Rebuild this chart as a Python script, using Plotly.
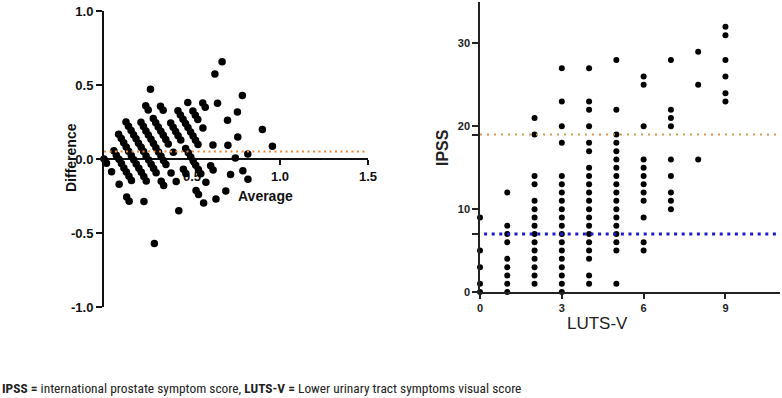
import plotly.graph_objects as go

# ---------------- data ----------------
# Bland-Altman (left panel)
bland_avg = [
    0.000, 0.014, 0.043, 0.086, 0.129, 0.143, 0.286,
    0.056, 0.070, 0.085, 0.099, 0.113, 0.127, 0.142, 0.156, 0.227,
    0.083, 0.098, 0.112, 0.126, 0.140, 0.155, 0.169, 0.183, 0.198, 0.212, 0.226, 0.240,
    0.125, 0.139, 0.154, 0.168, 0.182, 0.196, 0.211, 0.225, 0.239, 0.254, 0.268, 0.282, 0.296, 0.325, 0.339, 0.425,
    0.210, 0.224, 0.238, 0.252, 0.267, 0.281, 0.295, 0.310, 0.324, 0.338, 0.352, 0.381, 0.410,
    0.237, 0.251, 0.280, 0.294, 0.308, 0.323, 0.337, 0.351, 0.365, 0.394, 0.451, 0.465, 0.523, 0.537, 0.566,
    0.264, 0.321, 0.336, 0.379, 0.393, 0.407, 0.421, 0.436, 0.464, 0.479, 0.493, 0.507, 0.521, 0.536, 0.550, 0.579, 0.636,
    0.420, 0.434, 0.449, 0.463, 0.477, 0.492, 0.506, 0.520, 0.534, 0.606, 0.620, 0.692,
    0.476, 0.505, 0.519, 0.533, 0.562, 0.619, 0.719,
    0.561, 0.575, 0.704, 0.746, 0.789, 0.818,
    0.645, 0.702, 0.760, 0.817,
    0.630, 0.758,
    0.671, 0.786, 0.900, 0.957,
]
bland_diff = [
    0.000, -0.029, -0.086, -0.171, -0.257, -0.286, -0.571,
    0.055, 0.026, -0.002, -0.031, -0.060, -0.088, -0.117, -0.145, -0.288,
    0.167, 0.138, 0.110, 0.081, 0.052, 0.024, -0.005, -0.033, -0.062, -0.090, -0.119, -0.148,
    0.250, 0.221, 0.193, 0.164, 0.136, 0.107, 0.079, 0.050, 0.021, -0.007, -0.036, -0.064, -0.093, -0.150, -0.179, -0.350,
    0.248, 0.219, 0.190, 0.162, 0.133, 0.105, 0.076, 0.048, 0.019, -0.010, -0.038, -0.095, -0.152,
    0.360, 0.331, 0.274, 0.245, 0.217, 0.188, 0.160, 0.131, 0.102, 0.045, -0.069, -0.098, -0.212, -0.240, -0.298,
    0.471, 0.357, 0.329, 0.243, 0.214, 0.186, 0.157, 0.129, 0.071, 0.043, 0.014, -0.014, -0.043, -0.071, -0.100, -0.157, -0.271,
    0.326, 0.298, 0.269, 0.240, 0.212, 0.183, 0.155, 0.126, 0.098, -0.045, -0.074, -0.217,
    0.381, 0.324, 0.295, 0.267, 0.210, 0.095, -0.105,
    0.379, 0.350, 0.093, 0.007, -0.079, -0.136,
    0.376, 0.262, 0.148, 0.033,
    0.574, 0.317,
    0.657, 0.429, 0.200, 0.086,
]
mean_diff = 0.05

# IPSS vs LUTS-V (right panel)
lutsv_levels = [0, 1, 2, 3, 4, 5, 6, 7, 8, 9]
ipss_by_level = [
    [0, 1, 3, 5, 9],
    [0, 1, 2, 3, 4, 6, 7, 8, 12],
    [1, 2, 3, 4, 5, 6, 7, 8, 9, 10, 11, 13, 14, 19, 21],
    [0, 1, 2, 3, 4, 5, 6, 7, 8, 9, 10, 11, 12, 13, 14, 18, 20, 23, 27],
    [1, 2, 4, 5, 6, 7, 8, 9, 10, 11, 12, 13, 14, 15, 17, 18, 20, 22, 23, 27],
    [1, 5, 6, 7, 8, 9, 10, 11, 12, 13, 14, 15, 16, 17, 18, 19, 22, 28],
    [5, 6, 9, 11, 12, 13, 14, 15, 16, 20, 25, 26],
    [10, 11, 12, 14, 16, 20, 21, 22, 28],
    [16, 25, 29],
    [23, 24, 26, 28, 31, 32],
]
ipss_upper_cut = 19
ipss_lower_cut = 7

left_yticks = [-1.0, -0.5, 0.0, 0.5, 1.0]
left_xticks = [0.5, 1.0, 1.5]
right_xticks = [0, 3, 6, 9]
right_yticks = [0, 7, 10, 19, 20, 30]
right_yticktext = ["0", "", "10", "", "20", "30"]

caption = ("<b>IPSS =</b> international prostate symptom score, "
           "<b>LUTS-V =</b> Lower urinary tract symptoms visual score")

# ---------------- figure ----------------
W, H = 782, 398
px = lambda v: v / W
py = lambda v: (H - v) / H

lx = []
ly = []
for lvl, vals in zip(lutsv_levels, ipss_by_level):
    for v in vals:
        lx.append(lvl)
        ly.append(v)

fig = go.Figure()
fig.add_trace(go.Scatter(x=bland_avg, y=bland_diff, mode="markers",
                         marker=dict(color="black", size=7.5),
                         xaxis="x", yaxis="y", cliponaxis=False, hoverinfo="skip"))
fig.add_trace(go.Scatter(x=lx, y=ly, mode="markers",
                         marker=dict(color="black", size=6),
                         xaxis="x2", yaxis="y2", cliponaxis=False, hoverinfo="skip"))

tf_bold = dict(family="Liberation Sans, Arial, sans-serif", size=13, color="#111", weight="bold")
tf_r = dict(family="Liberation Sans, Arial, sans-serif", size=11, color="#222", weight="bold")

fig.update_layout(
    width=W, height=H,
    margin=dict(l=0, r=0, t=0, b=0, autoexpand=False),
    paper_bgcolor="white", plot_bgcolor="white",
    showlegend=False,
    xaxis=dict(domain=[px(104), px(368)], range=[0, 1.5], anchor="free", position=py(159),
               tickvals=left_xticks, ticktext=["0.5", "1.0", "1.5"],
               ticks="outside", ticklen=5, tickwidth=2, tickcolor="#111",
               showline=True, linewidth=2, linecolor="#111", automargin=False,
               showgrid=False, zeroline=False, tickfont=tf_bold, layer="below traces"),
    yaxis=dict(domain=[py(307), py(11)], range=[-1, 1], anchor="x",
               tickvals=left_yticks, ticktext=["-1.0", "-0.5", "0.0", "0.5", "1.0"],
               ticks="outside", ticklen=6, tickwidth=2, tickcolor="#111",
               showline=True, linewidth=2, linecolor="#111", automargin=False,
               showgrid=False, zeroline=False, tickfont=tf_bold),
    xaxis2=dict(domain=[px(480), px(780)], range=[0, 11], anchor="y2",
                tickvals=right_xticks, ticks="outside", ticklen=5, tickwidth=1.5, tickcolor="#222",
                showline=True, linewidth=1.5, linecolor="#222", automargin=False,
                showgrid=False, zeroline=False, tickfont=tf_r),
    yaxis2=dict(domain=[py(292), py(2)], range=[0, 35], anchor="x2",
                tickvals=right_yticks, ticktext=right_yticktext,
                ticks="outside", ticklen=6, tickwidth=1.5, tickcolor="#222",
                showline=True, linewidth=1.5, linecolor="#222", automargin=False,
                showgrid=False, zeroline=False, tickfont=tf_r),
)

fig.add_shape(type="line", xref="x", yref="y", x0=0, x1=1.5, y0=mean_diff, y1=mean_diff,
              line=dict(color="#EE8A3C", width=2, dash="2px,3.5px"))
fig.add_shape(type="line", xref="x2", yref="y2", x0=0, x1=11, y0=ipss_upper_cut, y1=ipss_upper_cut,
              line=dict(color="#D39A52", width=2, dash="2px,5px"))
fig.add_shape(type="line", xref="x2", yref="y2", x0=0.15, x1=11, y0=ipss_lower_cut, y1=ipss_lower_cut,
              line=dict(color="#1a1ad0", width=3, dash="3px,4.6px"))

fnt = "Liberation Sans, Arial, sans-serif"
fig.add_annotation(text="Difference", x=px(61), y=py(158), xref="paper", yref="paper",
                   textangle=-90, showarrow=False, font=dict(family=fnt, size=14, color="#111", weight="bold"))
fig.add_annotation(text="Average", x=px(236), y=py(196), xref="paper", yref="paper",
                   showarrow=False, font=dict(family=fnt, size=14, color="#111", weight="bold"))
fig.add_annotation(text="IPSS", x=px(443), y=py(148), xref="paper", yref="paper",
                   textangle=-90, showarrow=False, font=dict(family=fnt, size=16, color="#222", weight="bold"))
fig.add_annotation(text="LUTS-V", x=px(630), y=py(335), xref="paper", yref="paper",
                   showarrow=False, font=dict(family=fnt, size=17, color="#222"))
fig.add_annotation(text=caption, x=0, y=py(388), xref="paper", yref="paper",
                   xanchor="left", yanchor="middle", showarrow=False,
                   font=dict(family="Liberation Sans Narrow, Roboto Condensed, Roboto, sans-serif",
                             size=13.4, color="#222"))

fig.write_html("out.html", config={"displayModeBar": False},
               post_script="document.body.style.margin='0';document.body.style.overflow='hidden';")
